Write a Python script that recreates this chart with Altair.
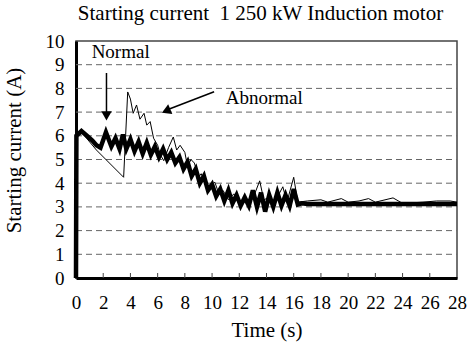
import altair as alt
import pandas as pd

# ---- data ----
normal_t = [0, 0.03, 0.4, 0.8, 1.2, 1.5, 1.8, 2.2, 2.6, 2.9, 3.2, 3.45, 3.7, 4.0, 4.3, 4.6, 4.9,
            5.2, 5.5, 5.8, 6.1, 6.4, 6.7, 7.0, 7.3, 7.6, 7.9, 8.2, 8.5, 8.8, 9.1, 9.4, 9.7,
            10.0, 10.3, 10.6, 10.9, 11.2, 11.5, 11.8, 12.1, 12.4, 12.7, 13.0, 13.3, 13.6,
            13.9, 14.2, 14.5, 14.8, 15.1, 15.4, 15.7, 16.0, 16.3, 16.6, 17.0, 28.0]
normal_a = [0, 6.0, 6.2, 6.0, 5.8, 5.6, 5.5, 6.15, 5.55, 5.9, 5.45, 6.05, 5.45, 5.85, 5.35, 5.75, 5.25,
            5.7, 5.2, 5.55, 5.1, 5.45, 5.0, 5.3, 4.85, 5.1, 4.6, 4.9, 4.3, 4.6, 4.0, 4.3, 3.7,
            3.95, 3.45, 3.75, 3.25, 3.7, 3.15, 3.5, 3.05, 3.4, 3.05, 3.7, 3.0, 3.6,
            2.8, 3.5, 3.0, 3.6, 3.05, 3.5, 3.05, 3.75, 3.1, 3.15, 3.12, 3.12]

abnormal_t = [0, 0.03, 0.4, 0.7, 1.5, 3.5, 3.8, 4.0, 4.2, 4.45, 4.7, 5.0, 5.2, 5.45, 5.7, 6.0,
              6.2, 6.45, 6.8, 7.15, 7.4, 7.65, 8.0, 8.2, 8.45, 8.7, 9.0, 9.2, 9.5, 9.8, 10.2,
              10.5, 10.8, 11.2, 11.6, 12.0, 12.5, 13.0, 13.5, 13.8, 14.2, 14.6, 15.2, 15.5,
              16.0, 16.3, 17.0, 18.0, 18.5, 19.5, 20.0, 20.8, 21.5, 22.0, 23.3, 24.0, 25.5,
              26.5, 27.5, 28.0]
abnormal_a = [0, 6.0, 6.2, 5.95, 5.4, 4.25, 7.85, 7.55, 6.95, 7.3, 6.7, 6.95, 6.45, 6.6, 5.9, 5.6,
              5.2, 4.95, 5.5, 5.95, 5.4, 5.6, 5.3, 4.7, 5.0, 4.85, 4.25, 4.4, 4.0, 3.8, 4.05,
              3.55, 3.7, 3.3, 3.55, 3.2, 3.3, 3.35, 4.1, 3.3, 3.4, 3.2, 3.85, 3.2,
              4.25, 3.2, 3.25, 3.3, 3.2, 3.35, 3.2, 3.25, 3.35, 3.2, 3.38, 3.15, 3.2,
              3.25, 3.25, 3.2]

x_ticks = list(range(0, 29, 2))
y_ticks = list(range(0, 11))
grid_levels = list(range(1, 10))
inner_ticks = list(range(2, 27, 2))

# annotations (data coordinates)
labels = ["Normal", "Abnormal"]
label_t = [1.15, 11.0]
label_a = [9.54, 7.6]
arrow_t1 = [2.24, 10.15]
arrow_a1 = [8.65, 7.86]
arrow_t2 = [2.24, 6.76]
arrow_a2 = [7.0, 7.11]
head_t = [2.24, 6.62]
head_a = [6.84, 7.05]
head_angle = [180, 247]

title_text = "Starting current\u00a0\u00a01 250 kW Induction motor"
FONT = "Liberation Serif"

normal_df = pd.DataFrame({"t": normal_t, "a": normal_a})
abnormal_df = pd.DataFrame({"t": abnormal_t, "a": abnormal_a})
grid_df = pd.DataFrame({"g": grid_levels})
itick_df = pd.DataFrame({"t": inner_ticks})
lab_df = pd.DataFrame({"label": labels, "t": label_t, "a": label_a})
arr_df = pd.DataFrame({"t1": arrow_t1, "a1": arrow_a1, "t2": arrow_t2, "a2": arrow_a2})
head_df = pd.DataFrame({"t": head_t, "a": head_a, "ang": head_angle})

xscale = alt.Scale(domain=[0, 28], nice=False)
yscale = alt.Scale(domain=[0, 10], nice=False)

common_axis = dict(labelFont=FONT, labelFontSize=19, labelFontWeight="normal", labelColor="black",
                   titleFont=FONT, titleFontSize=21, titleFontWeight="normal", titleColor="black",
                   domainColor="black", domainWidth=3, ticks=False, grid=False,
                   labelOverlap=False, labelBound=False, labelFlush=False)

xaxis = alt.Axis(values=x_ticks, title="Time (s)", labelPadding=15,
                 titleY=52, titleBaseline="middle", **common_axis)
yaxis = alt.Axis(values=y_ticks, title="Starting current (A)", labelPadding=12,
                 titleX=-62, titleY=109, titleBaseline="middle", titleAlign="center",
                 titleAngle=-90, **common_axis)


def X(field):
    return alt.X(field, scale=xscale, axis=xaxis)


def Y(field):
    return alt.Y(field, scale=yscale, axis=yaxis)


grid = alt.Chart(grid_df).mark_rule(color="#666", strokeWidth=1, strokeDash=[6, 4]).encode(
    y=Y("g:Q"), x=alt.value(0), x2=alt.value(381))

ticks = alt.Chart(itick_df).mark_rule(color="#444", strokeWidth=1).encode(
    x=X("t:Q"), y=alt.value(237), y2=alt.value(232))

normal = alt.Chart(normal_df).mark_line(color="black", strokeWidth=4.5, strokeJoin="miter").encode(
    x=X("t:Q"), y=Y("a:Q"))

abnormal = alt.Chart(abnormal_df).mark_line(color="black", strokeWidth=1).encode(
    x=X("t:Q"), y=Y("a:Q"))

arrows = alt.Chart(arr_df).mark_rule(color="black", strokeWidth=1.5).encode(
    x=X("t1:Q"), y=Y("a1:Q"), x2="t2:Q", y2="a2:Q")

heads = alt.Chart(head_df).mark_point(shape="triangle-up", filled=True, color="black",
                                      size=110, opacity=1).encode(
    x=X("t:Q"), y=Y("a:Q"), angle=alt.Angle("ang:Q", scale=None))

texts = alt.Chart(lab_df).mark_text(font=FONT, fontSize=19, align="left", baseline="middle",
                                    color="black").encode(
    x=X("t:Q"), y=Y("a:Q"), text="label:N")

chart = alt.layer(grid, ticks, abnormal, normal, arrows, heads, texts).properties(
    width=381, height=237,
    padding={"left": 76, "top": 41, "right": 18, "bottom": 69},
    autosize=alt.AutoSizeParams(type="none"),
    title=alt.TitleParams(title_text, font=FONT, fontSize=21, fontWeight="normal",
                          color="black", anchor="middle", dx=-6, offset=8),
).configure(font=FONT).configure_view(stroke="#444", strokeWidth=1.5).configure_axis(
    labelFont=FONT, titleFont=FONT, titleFontWeight="normal")

chart.save("out.html", embed_options={"renderer": "svg", "actions": False})
